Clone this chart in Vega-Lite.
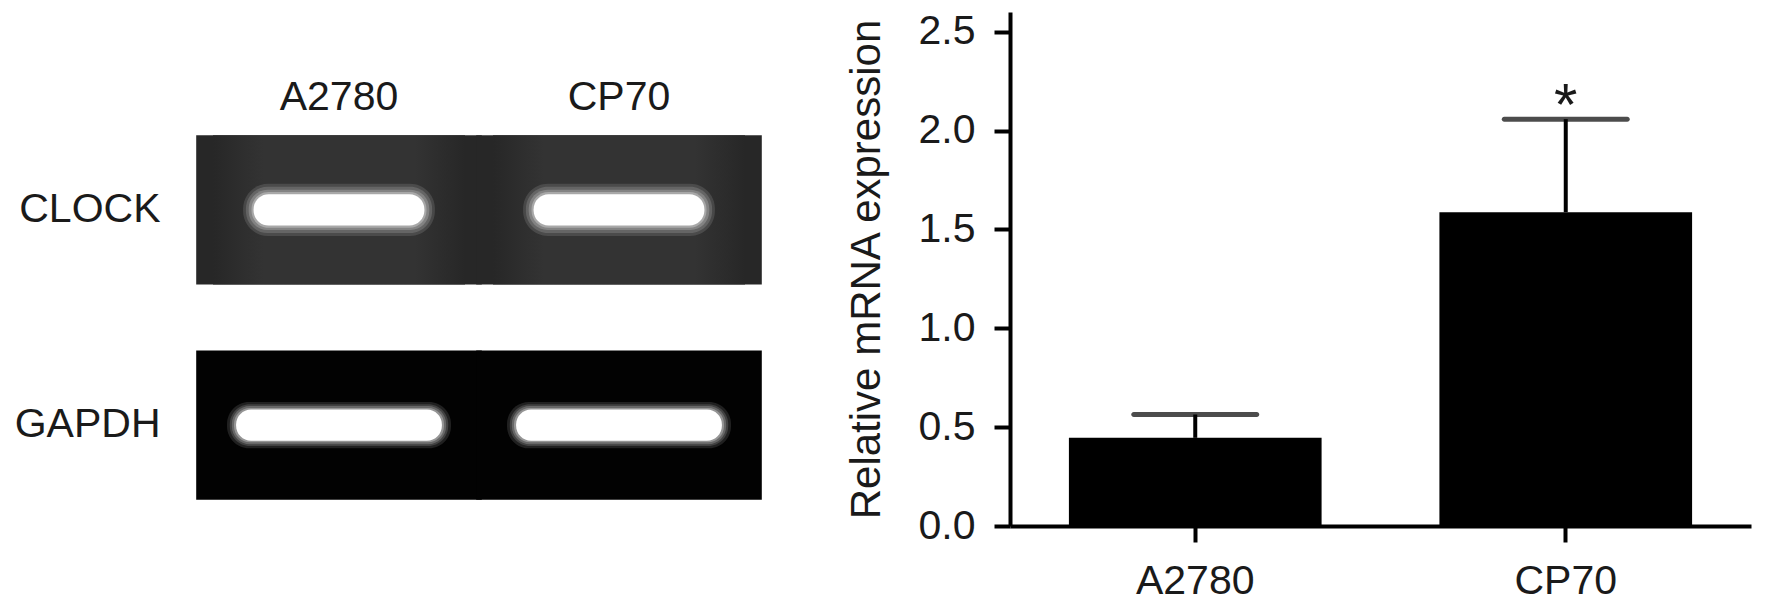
{
  "$schema": "https://vega.github.io/schema/vega-lite/v6.json",
  "width": 1772,
  "height": 615,
  "autosize": {"type": "fit", "contains": "padding"},
  "padding": {"left": 14, "top": 12, "right": 21, "bottom": 14},
  "config": {
    "view": {"stroke": null},
    "font": "Liberation Sans",
    "axis": {"labelFont": "Liberation Sans", "titleFont": "Liberation Sans"}
  },
  "resolve": {
    "scale": {"x": "independent", "y": "independent"},
    "axis": {"x": "independent", "y": "independent"}
  },
  "layer": [
    {
      "data": {"values": [
        {"gene": "CLOCK", "lane": "A2780"},
        {"gene": "CLOCK", "lane": "CP70"},
        {"gene": "GAPDH", "lane": "A2780"},
        {"gene": "GAPDH", "lane": "CP70"}
      ]},
      "encoding": {
        "x": {"field": "lane", "type": "nominal", "sort": null,
          "scale": {"domain": ["A2780", "CP70"], "range": [-811, -251], "paddingInner": 0, "paddingOuter": 0},
          "axis": {"orient": "top", "offset": -118, "domain": false, "ticks": false, "labelPadding": 12, "labelFontSize": 41, "labelColor": "#1a1a1a", "labelAngle": 0, "title": null}},
        "y": {"field": "gene", "type": "nominal", "sort": null,
          "scale": {"domain": ["CLOCK", "GAPDH"], "paddingInner": 0.306, "paddingOuter": 0.347, "align": 0.825},
          "axis": {"orient": "left", "offset": 817, "domain": false, "ticks": false, "labelPadding": 33, "labelFontSize": 41, "labelColor": "#1a1a1a", "title": null}}
      },
      "layer": [
        {"mark": {"type": "rect", "width": {"band": 1.02}},
         "encoding": {
           "color": {"field": "gene", "type": "nominal", "scale": {"domain": ["CLOCK", "GAPDH"], "range": ["#272727", "#020202"]}, "legend": null}}},
        {"transform": [{"filter": "datum.gene === 'CLOCK'"}],
         "mark": {"type": "rect", "width": {"band": 0.9},
           "color": {"gradient": "linear", "x1": 0, "y1": 0, "x2": 1, "y2": 0,
             "stops": [{"offset": 0, "color": "#272727"}, {"offset": 0.2, "color": "#333333"}, {"offset": 0.8, "color": "#333333"}, {"offset": 1, "color": "#272727"}]}}},
        {"transform": [{"filter": "datum.gene === 'CLOCK'"}],
         "mark": {"type": "rect", "color": "#ffffff", "opacity": 0.12, "width": {"band": 0.685}, "height": {"band": 0.35}, "cornerRadius": 25}},
        {"transform": [{"filter": "datum.gene === 'CLOCK'"}],
         "mark": {"type": "rect", "color": "#ffffff", "opacity": 0.15, "width": {"band": 0.665}, "height": {"band": 0.31}, "cornerRadius": 22}},
        {"transform": [{"filter": "datum.gene === 'CLOCK'"}],
         "mark": {"type": "rect", "color": "#ffffff", "opacity": 0.2, "width": {"band": 0.645}, "height": {"band": 0.27}, "cornerRadius": 19}},
        {"transform": [{"filter": "datum.gene === 'CLOCK'"}],
         "mark": {"type": "rect", "color": "#ffffff", "opacity": 0.3, "width": {"band": 0.625}, "height": {"band": 0.24}, "cornerRadius": 17}},
        {"transform": [{"filter": "datum.gene === 'CLOCK'"}],
         "mark": {"type": "rect", "color": "#ffffff", "opacity": 1, "width": {"band": 0.61}, "height": {"band": 0.21}, "cornerRadius": 15}},
        {"transform": [{"filter": "datum.gene === 'GAPDH'"}],
         "mark": {"type": "rect", "color": "#ffffff", "opacity": 0.12, "width": {"band": 0.8}, "height": {"band": 0.31}, "cornerRadius": 22}},
        {"transform": [{"filter": "datum.gene === 'GAPDH'"}],
         "mark": {"type": "rect", "color": "#ffffff", "opacity": 0.15, "width": {"band": 0.78}, "height": {"band": 0.28}, "cornerRadius": 20}},
        {"transform": [{"filter": "datum.gene === 'GAPDH'"}],
         "mark": {"type": "rect", "color": "#ffffff", "opacity": 0.2, "width": {"band": 0.765}, "height": {"band": 0.255}, "cornerRadius": 18}},
        {"transform": [{"filter": "datum.gene === 'GAPDH'"}],
         "mark": {"type": "rect", "color": "#ffffff", "opacity": 0.3, "width": {"band": 0.75}, "height": {"band": 0.23}, "cornerRadius": 16}},
        {"transform": [{"filter": "datum.gene === 'GAPDH'"}],
         "mark": {"type": "rect", "color": "#ffffff", "opacity": 1, "width": {"band": 0.735}, "height": {"band": 0.21}, "cornerRadius": 15}}
      ]
    },
    {
      "data": {"values": [
        {"cell": "A2780", "mean": 0.446, "upper": 0.564, "sig": ""},
        {"cell": "CP70", "mean": 1.587, "upper": 2.058, "sig": "*"}
      ]},
      "encoding": {
        "x": {"field": "cell", "type": "nominal", "sort": null,
          "scale": {"paddingInner": 0.318, "paddingOuter": 0.159},
          "axis": {"orient": "bottom", "labelAngle": 0, "labelFontSize": 41, "labelColor": "#1a1a1a", "labelPadding": 19, "tickSize": 16, "tickWidth": 4, "tickColor": "black", "domainWidth": 4, "domainColor": "black", "title": null}}
      },
      "layer": [
        {"mark": {"type": "bar", "color": "black"},
         "encoding": {"y": {"field": "mean", "type": "quantitative", "scale": {"domain": [0, 2.5]},
           "axis": {"orient": "left", "values": [0, 0.5, 1, 1.5, 2, 2.5], "format": ".1f", "grid": false, "tickSize": 16, "tickWidth": 4, "tickColor": "black", "domainWidth": 4, "domainColor": "black", "labelFontSize": 41, "labelPadding": 19, "labelColor": "#1a1a1a", "title": "Relative mRNA expression", "titleFontSize": 42, "titleFontWeight": "normal", "titleColor": "#1a1a1a", "titlePadding": 30}}}},
        {"mark": {"type": "rule", "strokeWidth": 4, "color": "black"},
         "encoding": {"y": {"field": "mean", "type": "quantitative"}, "y2": {"field": "upper"}}},
        {"mark": {"type": "tick", "orient": "horizontal", "size": 128, "thickness": 5, "color": "black", "cornerRadius": 2.5},
         "encoding": {"y": {"field": "upper", "type": "quantitative"}}},
        {"mark": {"type": "text", "fontSize": 60, "baseline": "alphabetic", "dy": 6, "color": "#1a1a1a"},
         "encoding": {"y": {"field": "upper", "type": "quantitative"}, "text": {"field": "sig"}}}
      ]
    }
  ]
}
